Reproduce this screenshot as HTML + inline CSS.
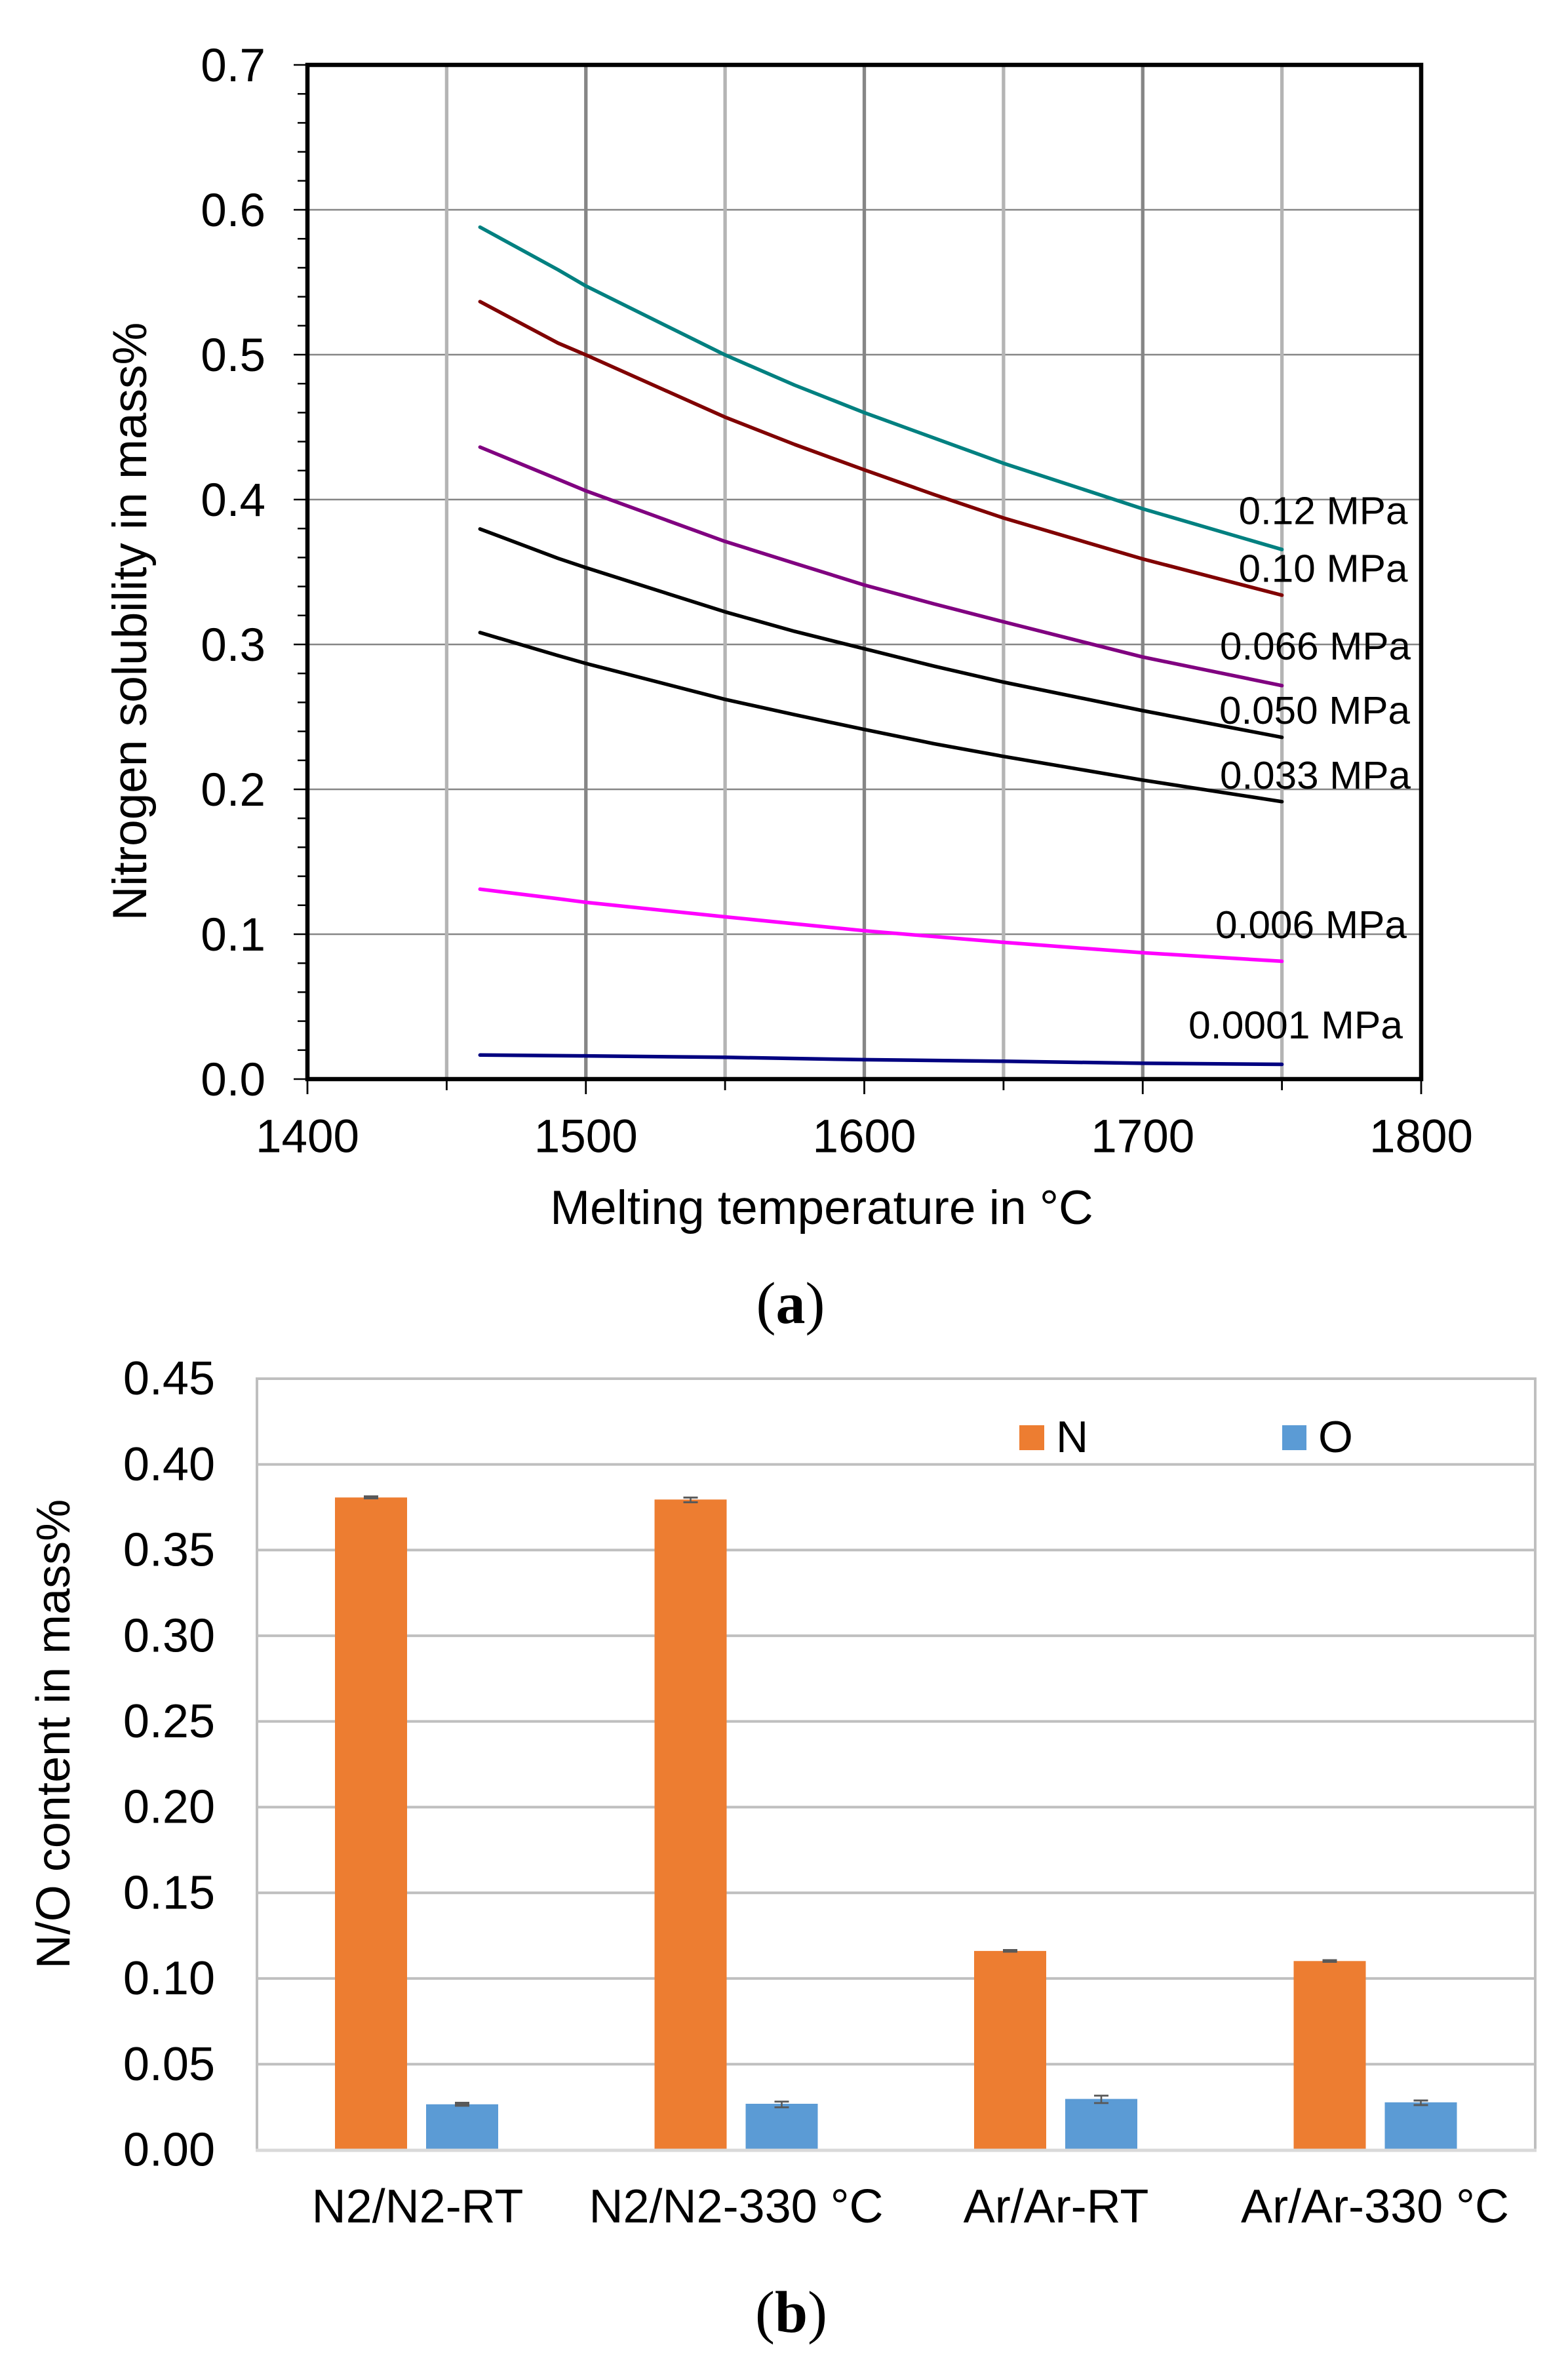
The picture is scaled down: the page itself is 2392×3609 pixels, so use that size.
<!DOCTYPE html>
<html>
<head>
<meta charset="utf-8">
<style>
html,body{margin:0;padding:0;background:#fff;}
svg{display:block;}
text{font-family:"Liberation Sans",Arial,sans-serif;fill:#000;}
.serif{font-family:"Liberation Serif","Times New Roman",serif;}
</style>
</head>
<body>
<svg xmlns="http://www.w3.org/2000/svg" width="2392" height="3609" viewBox="0 0 2392 3609">
<rect x="0" y="0" width="2392" height="3609" fill="#fff"/>

<!-- ================= CHART (a) ================= -->
<g stroke="#868686" stroke-width="2.5">
  <line x1="469" y1="1425" x2="2168" y2="1425"/>
  <line x1="469" y1="1204" x2="2168" y2="1204"/>
  <line x1="469" y1="983" x2="2168" y2="983"/>
  <line x1="469" y1="762" x2="2168" y2="762"/>
  <line x1="469" y1="541" x2="2168" y2="541"/>
  <line x1="469" y1="320" x2="2168" y2="320"/>
</g>
<g stroke-width="5.3">
  <line x1="681.4" y1="99" x2="681.4" y2="1646" stroke="#B4B4B4"/>
  <line x1="893.75" y1="99" x2="893.75" y2="1646" stroke="#868686"/>
  <line x1="1106.1" y1="99" x2="1106.1" y2="1646" stroke="#B4B4B4"/>
  <line x1="1318.5" y1="99" x2="1318.5" y2="1646" stroke="#868686"/>
  <line x1="1530.9" y1="99" x2="1530.9" y2="1646" stroke="#B4B4B4"/>
  <line x1="1743.25" y1="99" x2="1743.25" y2="1646" stroke="#868686"/>
  <line x1="1955.6" y1="99" x2="1955.6" y2="1646" stroke="#B4B4B4"/>
</g>

<g stroke="#000" stroke-width="2.5">
  <line x1="448" y1="1646" x2="469" y2="1646"/>
  <line x1="454" y1="1601.8" x2="469" y2="1601.8"/>
  <line x1="454" y1="1557.6" x2="469" y2="1557.6"/>
  <line x1="454" y1="1513.4" x2="469" y2="1513.4"/>
  <line x1="454" y1="1469.2" x2="469" y2="1469.2"/>
  <line x1="448" y1="1425" x2="469" y2="1425"/>
  <line x1="454" y1="1380.8" x2="469" y2="1380.8"/>
  <line x1="454" y1="1336.6" x2="469" y2="1336.6"/>
  <line x1="454" y1="1292.4" x2="469" y2="1292.4"/>
  <line x1="454" y1="1248.2" x2="469" y2="1248.2"/>
  <line x1="448" y1="1204" x2="469" y2="1204"/>
  <line x1="454" y1="1159.8" x2="469" y2="1159.8"/>
  <line x1="454" y1="1115.6" x2="469" y2="1115.6"/>
  <line x1="454" y1="1071.4" x2="469" y2="1071.4"/>
  <line x1="454" y1="1027.2" x2="469" y2="1027.2"/>
  <line x1="448" y1="983" x2="469" y2="983"/>
  <line x1="454" y1="938.8" x2="469" y2="938.8"/>
  <line x1="454" y1="894.6" x2="469" y2="894.6"/>
  <line x1="454" y1="850.4" x2="469" y2="850.4"/>
  <line x1="454" y1="806.2" x2="469" y2="806.2"/>
  <line x1="448" y1="762" x2="469" y2="762"/>
  <line x1="454" y1="717.8" x2="469" y2="717.8"/>
  <line x1="454" y1="673.6" x2="469" y2="673.6"/>
  <line x1="454" y1="629.4" x2="469" y2="629.4"/>
  <line x1="454" y1="585.2" x2="469" y2="585.2"/>
  <line x1="448" y1="541" x2="469" y2="541"/>
  <line x1="454" y1="496.8" x2="469" y2="496.8"/>
  <line x1="454" y1="452.6" x2="469" y2="452.6"/>
  <line x1="454" y1="408.4" x2="469" y2="408.4"/>
  <line x1="454" y1="364.2" x2="469" y2="364.2"/>
  <line x1="448" y1="320" x2="469" y2="320"/>
  <line x1="454" y1="275.8" x2="469" y2="275.8"/>
  <line x1="454" y1="231.6" x2="469" y2="231.6"/>
  <line x1="454" y1="187.4" x2="469" y2="187.4"/>
  <line x1="454" y1="143.2" x2="469" y2="143.2"/>
  <line x1="448" y1="99" x2="469" y2="99"/>
</g>
<g stroke="#000" stroke-width="2.8">
  <line x1="469" y1="1646" x2="469" y2="1669"/>
  <line x1="681.4" y1="1646" x2="681.4" y2="1663"/>
  <line x1="893.75" y1="1646" x2="893.75" y2="1669"/>
  <line x1="1106.1" y1="1646" x2="1106.1" y2="1663"/>
  <line x1="1318.5" y1="1646" x2="1318.5" y2="1669"/>
  <line x1="1530.9" y1="1646" x2="1530.9" y2="1663"/>
  <line x1="1743.25" y1="1646" x2="1743.25" y2="1669"/>
  <line x1="1955.6" y1="1646" x2="1955.6" y2="1663"/>
  <line x1="2168" y1="1646" x2="2168" y2="1669"/>
</g>

<g fill="none" stroke-width="5.5" stroke-linejoin="round" stroke-linecap="round">
  <polyline stroke="#008080" points="732.3,346.5 851.3,411.5 893.75,436.2 1106.1,541.4 1212.3,587.5 1318.5,629.4 1424.7,668.1 1530.9,706.7 1743.25,776.1 1955.6,838.2"/>
  <polyline stroke="#800000" points="732.3,460.1 851.3,523.3 893.75,541.4 1106.1,636.3 1212.3,678 1318.5,716.7 1424.7,754.3 1530.9,790.1 1743.25,852.6 1955.6,907.9"/>
  <polyline stroke="#800080" points="732.3,682 851.3,731.1 893.75,748.7 1106.1,825.9 1212.3,859.2 1318.5,892.4 1424.7,921.1 1530.9,948.5 1743.25,1002.2 1955.6,1045.8"/>
  <polyline stroke="#000000" points="732.3,806.9 851.3,851.7 893.75,865.9 1106.1,933.3 1212.3,963.1 1318.5,989.6 1424.7,1016.1 1530.9,1040.5 1743.25,1084 1955.6,1124.7"/>
  <polyline stroke="#000000" points="732.3,964.9 851.3,1000 893.75,1012 1106.1,1066.8 1212.3,1090.2 1318.5,1112.7 1424.7,1134.4 1530.9,1153.8 1743.25,1189.9 1955.6,1222.8"/>
  <polyline stroke="#FF00FF" points="732.3,1356.3 851.3,1370.9 893.75,1376.4 1106.1,1398.5 1318.5,1419.7 1530.9,1437.4 1743.25,1453.3 1955.6,1466.3"/>
  <polyline stroke="#000080" points="732.3,1609.3 893.75,1610.6 1106.1,1612.8 1318.5,1616.4 1530.9,1618.8 1743.25,1621.9 1955.6,1623.5"/>
</g>

<rect x="469" y="99" width="1699" height="1547" fill="none" stroke="#000" stroke-width="6.5"/>

<g font-size="59">
  <text x="1889.5" y="799.5" textLength="258" lengthAdjust="spacingAndGlyphs">0.12 MPa</text>
  <text x="1889.5" y="887.5" textLength="258" lengthAdjust="spacingAndGlyphs">0.10 MPa</text>
  <text x="1861" y="1006" textLength="291" lengthAdjust="spacingAndGlyphs">0.066 MPa</text>
  <text x="1860" y="1104" textLength="291" lengthAdjust="spacingAndGlyphs">0.050 MPa</text>
  <text x="1861" y="1203" textLength="291" lengthAdjust="spacingAndGlyphs">0.033 MPa</text>
  <text x="1854" y="1431" textLength="292" lengthAdjust="spacingAndGlyphs">0.006 MPa</text>
  <text x="1813" y="1584" textLength="327" lengthAdjust="spacingAndGlyphs">0.0001 MPa</text>
</g>

<g font-size="71" text-anchor="end">
  <text x="405" y="1671">0.0</text>
  <text x="405" y="1450">0.1</text>
  <text x="405" y="1229">0.2</text>
  <text x="405" y="1008">0.3</text>
  <text x="405" y="787">0.4</text>
  <text x="405" y="566">0.5</text>
  <text x="405" y="345">0.6</text>
  <text x="405" y="124">0.7</text>
</g>
<g font-size="71" text-anchor="middle">
  <text x="469" y="1757.6">1400</text>
  <text x="893.75" y="1757.6">1500</text>
  <text x="1318.5" y="1757.6">1600</text>
  <text x="1743.25" y="1757.6">1700</text>
  <text x="2168" y="1757.6">1800</text>
</g>
<text x="1253.5" y="1867" font-size="73" text-anchor="middle">Melting temperature in °C</text>
<text transform="translate(223,948) rotate(-90)" font-size="73" text-anchor="middle">Nitrogen solubility in mass%</text>

<text class="serif" x="1206" y="2018" font-size="90" text-anchor="middle">(<tspan font-weight="bold">a</tspan>)</text>

<!-- ================= CHART (b) ================= -->
<g stroke="#BFBFBF" stroke-width="4">
  <line x1="392" y1="2103" x2="2342" y2="2103"/>
  <line x1="392" y1="2233.7" x2="2342" y2="2233.7"/>
  <line x1="392" y1="2364.4" x2="2342" y2="2364.4"/>
  <line x1="392" y1="2495.1" x2="2342" y2="2495.1"/>
  <line x1="392" y1="2625.8" x2="2342" y2="2625.8"/>
  <line x1="392" y1="2756.5" x2="2342" y2="2756.5"/>
  <line x1="392" y1="2887.2" x2="2342" y2="2887.2"/>
  <line x1="392" y1="3017.9" x2="2342" y2="3017.9"/>
  <line x1="392" y1="3148.6" x2="2342" y2="3148.6"/>
  <line x1="392" y1="2101" x2="392" y2="3281"/>
  <line x1="2342" y1="2101" x2="2342" y2="3281"/>
</g>

<g fill="#ED7D31">
  <rect x="511" y="2284.2" width="110" height="994.8"/>
  <rect x="998.5" y="2287.3" width="110" height="991.7"/>
  <rect x="1486" y="2975.9" width="110" height="303.1"/>
  <rect x="1973.5" y="2991.3" width="110" height="287.7"/>
</g>
<g fill="#5B9BD5">
  <rect x="650" y="3209.8" width="110" height="69.2"/>
  <rect x="1137.5" y="3209" width="110" height="70"/>
  <rect x="1625" y="3201.6" width="110" height="77.4"/>
  <rect x="2112.5" y="3206.8" width="110" height="72.2"/>
</g>

<line x1="390" y1="3280" x2="2344" y2="3280" stroke="#D9D9D9" stroke-width="5"/>

<g fill="#595959">
  <rect x="555" y="2281" width="22" height="6"/>
  <rect x="1042.5" y="2282.8" width="22" height="3"/>
  <rect x="1042.5" y="2290" width="22" height="3"/>
  <rect x="1052.2" y="2284" width="2.6" height="7"/>
  <rect x="1530" y="2973" width="22" height="5.5"/>
  <rect x="2017.5" y="2988.5" width="22" height="5.5"/>
  <rect x="694" y="3206" width="22" height="7.5"/>
  <rect x="1181.5" y="3204.3" width="22" height="2.8"/>
  <rect x="1181.5" y="3213" width="22" height="2.8"/>
  <rect x="1191.2" y="3205" width="2.6" height="9"/>
  <rect x="1669" y="3195.2" width="22" height="2.8"/>
  <rect x="1669" y="3206.5" width="22" height="2.8"/>
  <rect x="1678.7" y="3196" width="2.6" height="12"/>
  <rect x="2156.5" y="3202.5" width="22" height="3"/>
  <rect x="2156.5" y="3209.5" width="22" height="3"/>
  <rect x="2166.2" y="3203.5" width="2.6" height="7"/>
</g>

<rect x="1555" y="2174" width="38" height="38" fill="#ED7D31"/>
<text x="1611" y="2215" font-size="68">N</text>
<rect x="1956" y="2174" width="37" height="38" fill="#5B9BD5"/>
<text x="2011" y="2215" font-size="68">O</text>

<g font-size="72" text-anchor="end">
  <text x="328" y="3303.5">0.00</text>
  <text x="328" y="3172.8">0.05</text>
  <text x="328" y="3042.1">0.10</text>
  <text x="328" y="2911.4">0.15</text>
  <text x="328" y="2780.7">0.20</text>
  <text x="328" y="2650">0.25</text>
  <text x="328" y="2519.3">0.30</text>
  <text x="328" y="2388.6">0.35</text>
  <text x="328" y="2257.9">0.40</text>
  <text x="328" y="2127.2">0.45</text>
</g>

<g font-size="72" text-anchor="middle">
  <text x="637" y="3390">N2/N2-RT</text>
  <text x="1123" y="3390">N2/N2-330 °C</text>
  <text x="1611" y="3390">Ar/Ar-RT</text>
  <text x="2097.5" y="3390">Ar/Ar-330 °C</text>
</g>

<text transform="translate(106,2645) rotate(-90)" font-size="72" text-anchor="middle">N/O content in mass%</text>

<text class="serif" x="1207" y="3557" font-size="90" text-anchor="middle">(<tspan font-weight="bold">b</tspan>)</text>
</svg>
</body>
</html>
